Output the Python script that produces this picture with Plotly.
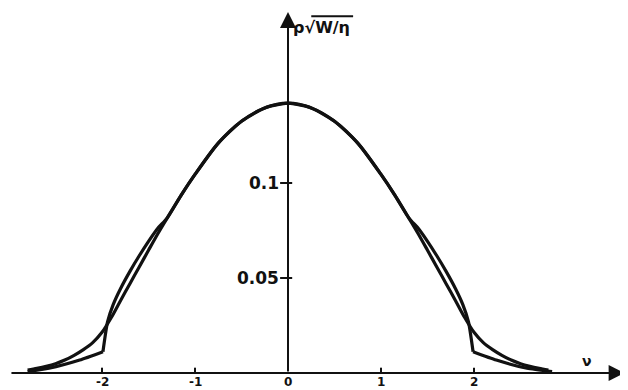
import plotly.graph_objects as go

# Smooth curve (A)
a_x = [-2.8, -2.7, -2.6, -2.5, -2.4, -2.3, -2.2, -2.1, -2.0, -1.9, -1.8, -1.7, -1.6, -1.5, -1.4,
       -1.3, -1.15, -1.0, -0.75, -0.5, -0.25, 0.0, 0.25, 0.5, 0.75, 1.0, 1.15, 1.3,
       1.4, 1.5, 1.6, 1.7, 1.8, 1.9, 2.0, 2.1, 2.2, 2.3, 2.4, 2.5, 2.6, 2.7, 2.8]
a_y = [0.0015, 0.0024, 0.0035, 0.0049, 0.0068, 0.0093, 0.0123, 0.0160, 0.0214, 0.0292, 0.0382,
       0.0470, 0.0558, 0.0646, 0.0733,
       0.0815, 0.0935, 0.1045, 0.1210, 0.1325, 0.1395, 0.1420, 0.1395, 0.1325, 0.1210, 0.1045,
       0.0935, 0.0815,
       0.0733, 0.0646, 0.0558, 0.0470, 0.0382, 0.0292, 0.0214, 0.0160, 0.0123, 0.0093, 0.0068,
       0.0049, 0.0035, 0.0024, 0.0015]

# Kinked curve (B): central part and two tails
b_body_x = [-1.99, -1.94, -1.88, -1.8, -1.7, -1.6, -1.5, -1.4, -1.3, -1.15, -1.0, -0.75, -0.5,
            -0.25, 0.0, 0.25, 0.5, 0.75, 1.0, 1.15, 1.3, 1.4, 1.5, 1.6, 1.7, 1.8, 1.88, 1.94, 1.99]
b_body_y = [0.0112, 0.0270, 0.0360, 0.0445, 0.0535, 0.0617, 0.0693, 0.0762, 0.0815, 0.0935,
            0.1045, 0.1210, 0.1325, 0.1395, 0.1420, 0.1395, 0.1325, 0.1210, 0.1045, 0.0935,
            0.0815, 0.0762, 0.0693, 0.0617, 0.0535, 0.0445, 0.0360, 0.0270, 0.0112]
b_left_x = [-2.8, -2.57, -2.24, -1.99]
b_left_y = [0.0008, 0.0025, 0.0068, 0.0112]
b_right_x = [1.99, 2.24, 2.57, 2.84]
b_right_y = [0.0112, 0.0068, 0.0025, 0.0008]

x_ticks = [-2, -1, 0, 1, 2]
x_tick_labels = ["-2", "-1", "0", "1", "2"]
y_ticks = [0.05, 0.1]
y_tick_labels = ["0.05", "0.1"]

# ranges compensate for the 8px default page margin
X_MIN, X_MAX = -3.011, 3.742
Y_MIN, Y_MAX = -0.01316, 0.1921
LW = 3.2
BLACK = "#111111"

fig = go.Figure()
fig.add_trace(go.Scatter(x=a_x, y=a_y, mode="lines",
                         line=dict(color=BLACK, width=LW, shape="spline", smoothing=0.8),
                         hoverinfo="skip"))
fig.add_trace(go.Scatter(x=b_body_x, y=b_body_y, mode="lines",
                         line=dict(color=BLACK, width=LW, shape="spline", smoothing=0.6),
                         hoverinfo="skip"))
fig.add_trace(go.Scatter(x=b_left_x, y=b_left_y, mode="lines",
                         line=dict(color=BLACK, width=LW, shape="spline", smoothing=0.5),
                         hoverinfo="skip"))
fig.add_trace(go.Scatter(x=b_right_x, y=b_right_y, mode="lines",
                         line=dict(color=BLACK, width=LW, shape="spline", smoothing=0.5),
                         hoverinfo="skip"))

annotations = []
shapes = []
# x axis with arrow
annotations.append(dict(x=3.62, y=0, ax=-2.99, ay=0, xref="x", yref="y", axref="x", ayref="y",
                        showarrow=True, arrowhead=2, arrowsize=1.6, arrowwidth=2,
                        arrowcolor=BLACK, text=""))
# y axis with arrow
annotations.append(dict(x=0, y=0.19, ax=0, ay=0, xref="x", yref="y", axref="x", ayref="y",
                        showarrow=True, arrowhead=2, arrowsize=1.6, arrowwidth=2,
                        arrowcolor=BLACK, text=""))

# x ticks (upward) and labels
for t, lab in zip(x_ticks, x_tick_labels):
    if t != 0:
        shapes.append(dict(type="line", xref="x", yref="y", x0=t, x1=t, y0=0, y1=0.0028,
                           line=dict(color=BLACK, width=2)))
    annotations.append(dict(x=t, y=0, xref="x", yref="y", text="<b>%s</b>" % lab,
                            showarrow=False, yanchor="top", yshift=0,
                            font=dict(family="DejaVu Sans", size=12, color=BLACK)))

# y ticks (crossing) and labels
for t, lab in zip(y_ticks, y_tick_labels):
    shapes.append(dict(type="line", xref="x", yref="y", x0=-0.085, x1=0.045, y0=t, y1=t,
                       line=dict(color=BLACK, width=2)))
    annotations.append(dict(x=-0.09, y=t, xref="x", yref="y", text="<b>%s</b>" % lab,
                            showarrow=False, xanchor="right", yanchor="middle", xshift=1,
                            font=dict(family="DejaVu Sans", size=17, color=BLACK)))

# axis titles
annotations.append(dict(x=0.03, y=0.182, xref="x", yref="y", text="<b>ρ√W/η</b>",
                        showarrow=False, xanchor="left", yanchor="middle",
                        font=dict(family="DejaVu Sans", size=16, color=BLACK)))
shapes.append(dict(type="line", xref="x", yref="y", x0=0.25, x1=0.70, y0=0.1878, y1=0.1878,
                   line=dict(color=BLACK, width=2)))
annotations.append(dict(x=3.21, y=0.0065, xref="x", yref="y", text="<b>ν</b>",
                        showarrow=False, xanchor="center", yanchor="middle",
                        font=dict(family="DejaVu Sans", size=14, color=BLACK)))

fig.update_layout(
    width=628, height=390, autosize=False,
    margin=dict(l=0, r=0, t=0, b=0),
    paper_bgcolor="white", plot_bgcolor="white",
    showlegend=False,
    xaxis=dict(range=[X_MIN, X_MAX], visible=False, fixedrange=True),
    yaxis=dict(range=[Y_MIN, Y_MAX], visible=False, fixedrange=True),
    annotations=annotations, shapes=shapes,
)

fig.write_html("out.html")
